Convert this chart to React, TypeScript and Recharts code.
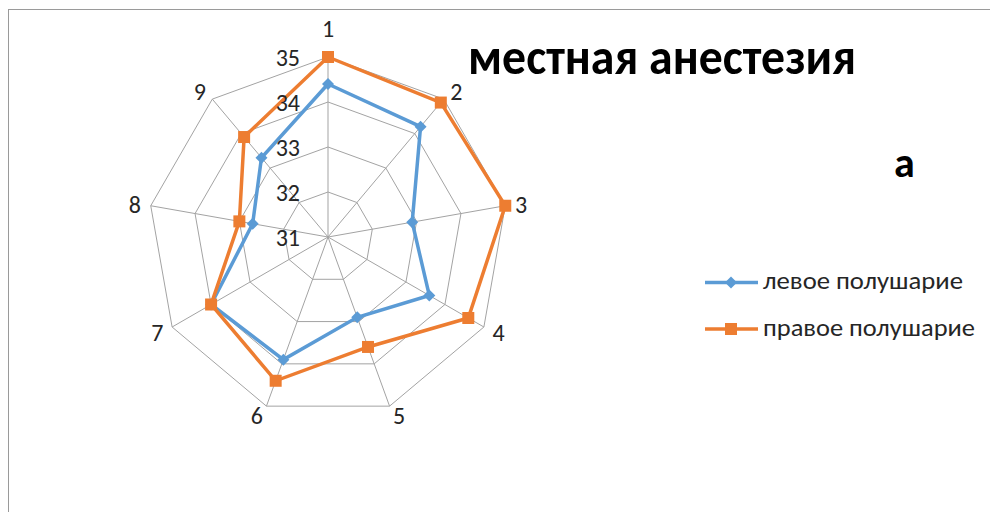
import React from "react";
import {
  RadarChart,
  Radar,
  PolarGrid,
  PolarAngleAxis,
  PolarRadiusAxis,
  Legend,
} from "recharts";

// Radar chart: "местная анестезия", 9 points, two hemispheres
const categories = ["1", "2", "3", "4", "5", "6", "7", "8", "9"];
const leftHemisphere = [34.4, 34.2, 32.9, 33.6, 32.9, 33.9, 34.0, 32.7, 33.3];
const rightHemisphere = [35.0, 34.9, 35.0, 34.6, 33.6, 34.4, 34.0, 33.0, 33.9];
const radiusTicks = [31, 32, 33, 34, 35];

const seriesNames = ["левое полушарие", "правое полушарие"];
const titleText = "местная анестезия";
const panelLabel = "а";

const data = categories.map((name, i) => ({
  name,
  left: leftHemisphere[i],
  right: rightHemisphere[i],
}));

const BLUE = "#5B9BD5";
const ORANGE = "#ED7D31";
const GRID = "#a3a3a3";
const TEXT = "#262626";
const FONT = "Calibri, Carlito, 'Open Sans', sans-serif";

const CX = 328;
const CY = 237;

function AngleTick(props: any) {
  const { x, y, payload } = props;
  const dx = x - CX;
  const dy = y - CY;
  const len = Math.sqrt(dx * dx + dy * dy) || 1;
  const ux = dx / len;
  const uy = dy / len;
  const vertical = Math.abs(ux) < 0.1;
  const d = vertical ? 21 : 2;
  const anchor = vertical ? "middle" : ux > 0 ? "start" : "end";
  return (
    <text
      x={x + ux * d}
      y={y + uy * d}
      textAnchor={anchor}
      dominantBaseline="central"
      fontSize={24}
      fontFamily={FONT}
      fill={TEXT}
    >
      {payload.value}
    </text>
  );
}

function RadiusTick(props: any) {
  const { x, y, payload } = props;
  return (
    <text
      x={x - 28}
      y={y}
      textAnchor="end"
      dominantBaseline="central"
      fontSize={24}
      fontFamily={FONT}
      fill={TEXT}
    >
      {payload.value}
    </text>
  );
}

function SquareDot(props: any) {
  const { cx, cy, index } = props;
  return <rect key={`sq-${index}`} x={cx - 6} y={cy - 6} width={12} height={12} fill={ORANGE} />;
}

function DiamondDot(props: any) {
  const { cx, cy, index } = props;
  return (
    <path
      key={`dm-${index}`}
      d={`M${cx},${cy - 6} L${cx + 6},${cy} L${cx},${cy + 6} L${cx - 6},${cy} Z`}
      fill={BLUE}
    />
  );
}

function LegendBox() {
  return (
    <svg width={290} height={90}>
      <line x1={5} y1={22.5} x2={58} y2={22.5} stroke={BLUE} strokeWidth={3.5} />
      <path d="M31,16.5 L37,22.5 L31,28.5 L25,22.5 Z" fill={BLUE} />
      <text x={63} y={28.5} fontSize={24} fontFamily={FONT} fill={TEXT} textLength={200} lengthAdjust="spacingAndGlyphs">
        {seriesNames[0]}
      </text>
      <line x1={5} y1={69} x2={58} y2={69} stroke={ORANGE} strokeWidth={3.5} />
      <rect x={25} y={63} width={12} height={12} fill={ORANGE} />
      <text x={63} y={76} fontSize={24} fontFamily={FONT} fill={TEXT} textLength={212} lengthAdjust="spacingAndGlyphs">
        {seriesNames[1]}
      </text>
    </svg>
  );
}

export default function App() {
  return (
    <div
      style={{
        position: "fixed",
        left: 0,
        top: 0,
        width: 990,
        height: 512,
        overflow: "hidden",
        background: "#fff",
      }}
    >
      <div
        style={{
          position: "absolute",
          left: 8,
          top: 9,
          width: 1000,
          height: 600,
          border: "1.5px solid #9a9a9a",
        }}
      />
      <div style={{ position: "absolute", left: 0, top: 0 }}>
        <RadarChart
          width={990}
          height={512}
          data={data}
          cx={CX}
          cy={CY}
          outerRadius={180}
          margin={{ top: 0, right: 0, bottom: 0, left: 0 }}
        >
          <PolarGrid gridType="polygon" stroke={GRID} strokeWidth={1} />
          <PolarAngleAxis
            dataKey="name"
            tick={<AngleTick />}
            tickLine={false}
            axisLine={false}
            tickSize={8}
          />
          <PolarRadiusAxis
            angle={90}
            domain={[31, 35]}
            ticks={radiusTicks}
            tick={<RadiusTick />}
            tickLine={false}
            axisLine={false}
          />
          <Radar
            name={seriesNames[0]}
            dataKey="left"
            stroke={BLUE}
            strokeWidth={3.5}
            fill="none"
            fillOpacity={0}
            dot={DiamondDot}
            isAnimationActive={false}
          />
          <Radar
            name={seriesNames[1]}
            dataKey="right"
            stroke={ORANGE}
            strokeWidth={3.5}
            fill="none"
            fillOpacity={0}
            dot={SquareDot}
            isAnimationActive={false}
          />
          <Legend
            content={<LegendBox />}
            wrapperStyle={{ position: "absolute", left: 700, top: 260, width: 290, height: 90 }}
          />
        </RadarChart>
      </div>
      <svg
        width={990}
        height={512}
        style={{ position: "absolute", left: 0, top: 0, pointerEvents: "none" }}
      >
        <text
          x={468}
          y={74}
          fontSize={50}
          fontWeight="bold"
          fontFamily={FONT}
          fill="#000"
          textLength={388}
          lengthAdjust="spacingAndGlyphs"
        >
          {titleText}
        </text>
        <text x={894} y={177} fontSize={42} fontWeight="bold" fontFamily={FONT} fill="#000">
          {panelLabel}
        </text>
      </svg>
    </div>
  );
}
